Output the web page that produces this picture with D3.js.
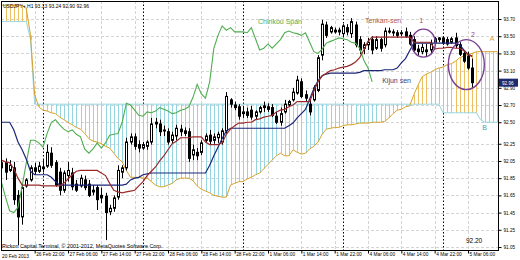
<!DOCTYPE html>
<meta charset="utf-8">
<script src="https://d3js.org/d3.v7.min.js"></script>
<style>
body { margin: 0; background: #fff; }
svg text { font-family: "Liberation Sans", Arial, sans-serif; }
.yaxis text { font-size: 4.6px; fill: #000; }
.xaxis text { font-size: 4.8px; fill: #000; }
</style>
<body></body>
<script>

// ---- data (USDJPY H1) ----
var opens = [
  91.97, 92.03, 91.94, 91.97, 91.65, 91.40, 91.76, 91.83, 91.97, 91.93,
  91.98, 91.99, 92.14, 92.03, 91.92, 91.71, 91.88, 91.91, 91.78, 91.76,
  91.83, 91.78, 91.71, 91.74, 91.65, 91.64, 91.46, 91.50, 91.63, 91.92,
  91.97, 92.27, 92.33, 92.24, 92.20, 92.22, 92.27, 92.48, 92.48, 92.40,
  92.39, 92.29, 92.34, 92.42, 92.40, 92.39, 92.12, 92.15, 92.15, 92.29,
  92.35, 92.29, 92.32, 92.27, 92.40, 92.76, 92.70, 92.68, 92.60, 92.62,
  92.64, 92.57, 92.62, 92.67, 92.68, 92.67, 92.57, 92.50, 92.62, 92.70,
  92.76, 92.84, 92.97, 92.82, 92.71, 92.76, 92.87, 93.28, 93.63, 93.55,
  93.57, 93.55, 93.53, 93.60, 93.53, 93.63, 93.46, 93.36, 93.40, 93.46,
  93.36, 93.46, 93.40, 93.56, 93.55, 93.54, 93.53, 93.55, 93.51, 93.46,
  93.35, 93.32, 93.34, 93.34, 93.43, 93.46, 93.48, 93.46, 93.43, 93.48,
  93.40, 93.30, 93.27, 93.13];
var highs = [
  92.06, 92.08, 92.06, 92.04, 91.71, 91.77, 91.85, 92.00, 92.03, 92.04,
  92.06, 92.24, 92.21, 92.06, 91.97, 91.94, 92.04, 91.97, 91.83, 91.89,
  91.88, 91.83, 91.77, 91.77, 91.74, 91.68, 91.54, 91.65, 92.00, 92.00,
  92.32, 92.37, 92.37, 92.29, 92.27, 92.29, 92.55, 92.55, 92.53, 92.46,
  92.43, 92.39, 92.47, 92.47, 92.44, 92.43, 92.24, 92.20, 92.29, 92.37,
  92.41, 92.37, 92.39, 92.43, 92.85, 92.78, 92.74, 92.71, 92.69, 92.67,
  92.69, 92.64, 92.69, 92.74, 92.72, 92.71, 92.62, 92.67, 92.76, 92.76,
  92.90, 93.04, 93.01, 92.87, 92.76, 92.93, 93.28, 93.69, 93.67, 93.62,
  93.60, 93.60, 93.64, 93.64, 93.71, 93.67, 93.50, 93.43, 93.48, 93.50,
  93.50, 93.48, 93.60, 93.60, 93.58, 93.57, 93.57, 93.60, 93.55, 93.50,
  93.40, 93.41, 93.41, 93.46, 93.49, 93.49, 93.50, 93.49, 93.49, 93.54,
  93.43, 93.34, 93.32, 93.24];
var lows = [
  91.88, 91.83, 91.92, 91.54, 91.07, 91.31, 91.74, 91.81, 91.89, 91.91,
  91.92, 91.97, 91.97, 91.75, 91.65, 91.68, 91.81, 91.71, 91.69, 91.74,
  91.71, 91.63, 91.65, 91.48, 91.56, 91.13, 91.42, 91.46, 91.60, 91.85,
  91.94, 92.24, 92.18, 92.15, 92.18, 92.18, 92.24, 92.43, 92.34, 92.34,
  92.24, 92.25, 92.29, 92.34, 92.34, 92.04, 92.06, 92.06, 92.12, 92.27,
  92.24, 92.25, 92.26, 92.24, 92.37, 92.67, 92.64, 92.53, 92.55, 92.55,
  92.53, 92.53, 92.60, 92.62, 92.62, 92.56, 92.48, 92.46, 92.60, 92.68,
  92.74, 92.82, 92.78, 92.74, 92.58, 92.74, 92.85, 93.22, 93.48, 93.53,
  93.53, 93.51, 93.50, 93.51, 93.48, 93.37, 93.29, 93.29, 93.34, 93.29,
  93.34, 93.32, 93.37, 93.53, 93.50, 93.48, 93.50, 93.48, 93.39, 93.32,
  93.28, 93.29, 93.27, 93.29, 93.42, 93.43, 93.40, 93.39, 93.41, 93.36,
  93.27, 93.19, 93.11, 92.90];
var closes = [
  92.03, 91.92, 92.00, 91.60, 91.40, 91.74, 91.83, 91.97, 91.93, 91.99,
  91.96, 92.15, 92.00, 91.77, 91.71, 91.91, 91.94, 91.75, 91.71, 91.85,
  91.74, 91.65, 91.69, 91.60, 91.62, 91.45, 91.50, 91.62, 91.94, 91.97,
  92.27, 92.33, 92.22, 92.20, 92.24, 92.27, 92.48, 92.50, 92.39, 92.41,
  92.27, 92.35, 92.43, 92.39, 92.37, 92.08, 92.18, 92.11, 92.26, 92.34,
  92.28, 92.33, 92.36, 92.40, 92.80, 92.71, 92.67, 92.57, 92.62, 92.58,
  92.56, 92.62, 92.67, 92.69, 92.65, 92.58, 92.50, 92.60, 92.71, 92.74,
  92.85, 92.99, 92.80, 92.78, 92.62, 92.90, 93.25, 93.64, 93.51, 93.60,
  93.55, 93.57, 93.62, 93.55, 93.67, 93.40, 93.34, 93.40, 93.43, 93.34,
  93.46, 93.36, 93.56, 93.55, 93.54, 93.51, 93.54, 93.50, 93.41, 93.34,
  93.32, 93.37, 93.32, 93.41, 93.47, 93.48, 93.42, 93.41, 93.47, 93.39,
  93.29, 93.21, 93.13, 92.96];

var tenkan = [
  92.06, 92.04, 92.03, 91.96, 91.85, 91.77, 91.77, 91.77, 91.77, 91.77,
  91.76, 91.76, 91.76, 91.76, 91.76, 91.79, 91.84, 91.89, 91.93, 91.94,
  91.94, 91.94, 91.94, 91.94, 91.91, 91.88, 91.79, 91.71, 91.69, 91.68,
  91.69, 91.70, 91.71, 91.76, 91.81, 91.88, 91.93, 91.98, 92.05, 92.11,
  92.18, 92.25, 92.28, 92.32, 92.32, 92.32, 92.33, 92.33, 92.33, 92.27,
  92.24, 92.24, 92.24, 92.26, 92.36, 92.42, 92.46, 92.49, 92.49, 92.50,
  92.50, 92.53, 92.54, 92.56, 92.57, 92.58, 92.62, 92.64, 92.65, 92.68,
  92.70, 92.74, 92.74, 92.74, 92.74, 92.86, 92.97, 93.04, 93.07, 93.10,
  93.11, 93.13, 93.14, 93.15, 93.17, 93.20, 93.25, 93.34, 93.44, 93.49,
  93.49, 93.49, 93.49, 93.49, 93.49, 93.49, 93.49, 93.49, 93.49, 93.43,
  93.43, 93.43, 93.43, 93.43, 93.35, 93.36, 93.36, 93.37, 93.37, 93.36,
  93.36, 93.33, 93.29, 93.26];
var kijun = [
  92.50, 92.50, 92.50, 92.41, 92.27, 92.18, 92.07, 91.93, 91.89, 91.89,
  91.89, 91.89, 91.86, 91.81, 91.77, 91.77, 91.77, 91.77, 91.77, 91.77,
  91.77, 91.77, 91.77, 91.77, 91.77, 91.77, 91.77, 91.77, 91.77, 91.77,
  91.78, 91.83, 91.85, 91.86, 91.89, 91.90, 91.91, 91.91, 91.91, 91.91,
  91.91, 91.91, 91.91, 91.91, 91.91, 91.91, 91.91, 91.91, 91.91, 91.91,
  92.00, 92.11, 92.21, 92.31, 92.40, 92.43, 92.43, 92.43, 92.43, 92.43,
  92.43, 92.43, 92.43, 92.43, 92.43, 92.43, 92.43, 92.43, 92.43, 92.46,
  92.49, 92.55, 92.60, 92.65, 92.77, 92.89, 92.98, 93.04, 93.06, 93.07,
  93.07, 93.07, 93.07, 93.07, 93.07, 93.07, 93.08, 93.10, 93.10, 93.10,
  93.10, 93.10, 93.11, 93.11, 93.11, 93.13, 93.19, 93.24, 93.33, 93.42,
  93.42, 93.42, 93.42, 93.42, 93.42, 93.42, 93.42, 93.42, 93.42, 93.42,
  93.40, 93.34, 93.29, 93.27];
// chinkou span: drawn from the first bar onwards
var chinkou = [
  91.81, 91.63, 91.47, 91.45, 91.51, 91.76, 92.03, 92.29, 92.29, 92.26,
  92.21, 92.37, 92.50, 92.53, 92.47, 92.42, 92.39, 92.41, 92.36, 92.33,
  92.19, 92.14, 92.19, 92.26, 92.20, 92.26, 92.35, 92.36, 92.37, 92.50,
  92.72, 92.70, 92.64, 92.58, 92.57, 92.62, 92.61, 92.63, 92.67, 92.65,
  92.63, 92.60, 92.61, 92.64, 92.65, 92.68, 92.79, 92.94, 92.83, 92.78,
  92.97, 93.36, 93.51, 93.62, 93.57, 93.60, 93.55, 93.55, 93.55, 93.54,
  93.60, 93.47, 93.34, 93.36, 93.41, 93.36, 93.41, 93.46, 93.54, 93.56,
  93.54, 93.53, 93.51, 93.54, 93.43, 93.32, 93.30, 93.35, 93.42, 93.44,
  93.46, 93.48, 93.47, 93.46, 93.43, 93.42, 93.36, 93.22, 93.13, 92.97];
// senkou spans run past the last bar (cut at the price scale)
var spanA = [
  93.86, 93.86, 93.86, 93.86, 93.86, 93.86, 93.82, 93.51, 92.82, 92.68,
  92.64, 92.63, 92.61, 92.60, 92.56, 92.53, 92.50, 92.47, 92.44, 92.42,
  92.37, 92.31, 92.28, 92.27, 92.25, 92.22, 92.20, 92.14, 92.08, 92.04,
  91.94, 91.86, 91.86, 91.86, 91.85, 91.85, 91.81, 91.77, 91.75, 91.75,
  91.77, 91.79, 91.83, 91.85, 91.85, 91.85, 91.82, 91.76, 91.72, 91.70,
  91.68, 91.65, 91.64, 91.63, 91.63, 91.77, 91.79, 91.81, 91.81, 91.84,
  91.86, 91.89, 91.91, 91.96, 92.01, 92.06, 92.11, 92.14, 92.11, 92.11,
  92.18, 92.15, 92.13, 92.14, 92.19, 92.22, 92.27, 92.36, 92.42, 92.43,
  92.44, 92.44, 92.46, 92.47, 92.47, 92.48, 92.49, 92.49, 92.49, 92.50,
  92.50, 92.50, 92.51, 92.55, 92.60, 92.64, 92.65, 92.68, 92.69, 92.82,
  92.93, 93.03, 93.06, 93.08, 93.11, 93.13, 93.14, 93.17, 93.18, 93.21,
  93.25, 93.27, 93.29, 93.30, 93.32, 93.32, 93.32, 93.32, 93.32, 93.32];
var spanB = [
  93.67, 93.67, 93.67, 93.67, 93.67, 93.67, 93.67, 93.46, 92.71, 92.71,
  92.71, 92.71, 92.71, 92.71, 92.71, 92.71, 92.71, 92.71, 92.71, 92.71,
  92.71, 92.71, 92.71, 92.71, 92.71, 92.71, 92.71, 92.71, 92.71, 92.71,
  92.71, 92.71, 92.71, 92.71, 92.71, 92.71, 92.71, 92.71, 92.71, 92.71,
  92.71, 92.71, 92.71, 92.71, 92.71, 92.71, 92.71, 92.71, 92.71, 92.71,
  92.71, 92.71, 92.71, 92.71, 92.71, 92.71, 92.71, 92.71, 92.71, 92.71,
  92.71, 92.71, 92.71, 92.71, 92.71, 92.71, 92.71, 92.71, 92.71, 92.71,
  92.71, 92.71, 92.71, 92.71, 92.71, 92.71, 92.71, 92.71, 92.71, 92.71,
  92.71, 92.71, 92.71, 92.71, 92.71, 92.71, 92.71, 92.71, 92.71, 92.71,
  92.71, 92.71, 92.71, 92.71, 92.71, 92.71, 92.71, 92.71, 92.71, 92.71,
  92.71, 92.71, 92.71, 92.71, 92.71, 92.71, 92.61, 92.61, 92.61, 92.61,
  92.61, 92.61, 92.61, 92.61, 92.61, 92.53, 92.50, 92.50, 92.50, 92.50];

var priceTicks = [93.70, 93.50, 93.30, 93.10, 92.90, 92.70, 92.50, 92.25, 92.05, 91.85, 91.65, 91.45, 91.25, 91.05];
var timeTickBars = [8, 16, 24, 32, 40, 48, 56, 64, 72, 80, 88, 96, 104, 112];
var timeLabels = ["26 Feb 22:00", "27 Feb 06:00", "27 Feb 14:00", "27 Feb 22:00", "28 Feb 06:00", "28 Feb 14:00",
  "28 Feb 22:00", "1 Mar 06:00", "1 Mar 14:00", "1 Mar 22:00", "4 Mar 06:00", "4 Mar 14:00", "4 Mar 22:00", "5 Mar 06:00"];
var daySeparatorBars = [10, 34, 58, 82, 106];
var lastPrice = 92.96;

// ---- layout ----
var width = 520, height = 260;
var plot = {left: 1, right: 498, top: 1, bottom: 250};

var svg = d3.select("body").append("svg")
  .attr("width", width)
  .attr("height", height);

var x = d3.scaleLinear().domain([10, 106]).range([43, 443]);
var y = d3.scaleLinear().domain([91.05, 93.70]).range([247, 19]);

function px(i) { return Math.round(x(i)) + 0.5; }

svg.append("clipPath").attr("id", "clip")
  .append("rect")
  .attr("x", plot.left).attr("y", plot.top)
  .attr("width", plot.right - plot.left).attr("height", plot.bottom - plot.top);

var chart = svg.append("g").attr("clip-path", "url(#clip)");

// grid
chart.selectAll(".hgrid")
  .data(priceTicks)
  .enter().append("line")
  .attr("x1", plot.left).attr("x2", plot.right)
  .attr("y1", function(d) { return Math.round(y(d)) + 0.5; })
  .attr("y2", function(d) { return Math.round(y(d)) + 0.5; })
  .attr("stroke", "#d4d4d4")
  .attr("stroke-dasharray", "3,2");

chart.selectAll(".vgrid")
  .data(timeTickBars)
  .enter().append("line")
  .attr("x1", px).attr("x2", px)
  .attr("y1", plot.top).attr("y2", plot.bottom)
  .attr("stroke", "#d4d4d4")
  .attr("stroke-dasharray", "3,2");

chart.selectAll(".daysep")
  .data(daySeparatorBars)
  .enter().append("line")
  .attr("x1", px).attr("x2", px)
  .attr("y1", plot.top).attr("y2", plot.bottom)
  .attr("stroke", "#000")
  .attr("stroke-dasharray", "1.5,2");

// kumo hatch
chart.selectAll(".kumo")
  .data(spanA)
  .enter().append("line")
  .attr("x1", function(d, i) { return px(i); })
  .attr("x2", function(d, i) { return px(i); })
  .attr("y1", function(d) { return y(d); })
  .attr("y2", function(d, i) { return y(spanB[i]); })
  .attr("stroke", function(d, i) { return d >= spanB[i] ? "#ebbf62" : "#96d5e0"; })
  .attr("stroke-width", 1);

function lineOf(arr) {
  return d3.line()
    .x(function(d, i) { return x(i); })
    .y(function(d) { return y(d); })(arr);
}

chart.append("path").attr("d", lineOf(spanB))
  .attr("fill", "none").attr("stroke", "#96d5e0").attr("stroke-width", 1);
chart.append("path").attr("d", lineOf(spanA))
  .attr("fill", "none").attr("stroke", "#d6a22a").attr("stroke-width", 1);

// candles
var bars = chart.selectAll(".bar")
  .data(closes)
  .enter().append("g")
  .attr("class", "bar");

bars.append("line")
  .attr("x1", function(d, i) { return px(i); })
  .attr("x2", function(d, i) { return px(i); })
  .attr("y1", function(d, i) { return y(highs[i]); })
  .attr("y2", function(d, i) { return y(lows[i]); })
  .attr("stroke", "#000");

bars.append("rect")
  .attr("x", function(d, i) { return px(i) - 1; })
  .attr("width", 2)
  .attr("y", function(d, i) { return y(Math.max(opens[i], d)); })
  .attr("height", function(d, i) { return Math.max(1, Math.abs(y(opens[i]) - y(d))); })
  .attr("fill", function(d, i) { return d >= opens[i] ? "#fff" : "#000"; })
  .attr("stroke", "#000")
  .attr("stroke-width", 1);

// ichimoku lines
chart.append("path").attr("d", lineOf(chinkou))
  .attr("fill", "none").attr("stroke", "#4fae4f").attr("stroke-width", 1.1);
chart.append("path").attr("d", lineOf(kijun))
  .attr("fill", "none").attr("stroke", "#1b2677").attr("stroke-width", 1.2);
chart.append("path").attr("d", lineOf(tenkan))
  .attr("fill", "none").attr("stroke", "#9a2a2a").attr("stroke-width", 1.2);

// annotations
var ellipses = [
  {bar: 101.3, price: 93.42, rx: 12, ry: 14},
  {bar: 111.6, price: 93.17, rx: 18, ry: 25}
];
chart.selectAll(".mark")
  .data(ellipses)
  .enter().append("ellipse")
  .attr("cx", function(d) { return x(d.bar); })
  .attr("cy", function(d) { return y(d.price); })
  .attr("rx", function(d) { return d.rx; })
  .attr("ry", function(d) { return d.ry; })
  .attr("fill", "none")
  .attr("stroke", "#7a3f8e")
  .attr("stroke-width", 1.4);

var notes = [
  {text: "Chinkou Span", bar: 61.6, price: 93.64, color: "#4fae4f", size: 7},
  {text: "Tenkan-sen", bar: 87.3, price: 93.65, color: "#b05a50", size: 7},
  {text: "1", bar: 100.3, price: 93.65, color: "#a04a6a", size: 7},
  {text: "2", bar: 112.7, price: 93.49, color: "#a04a6a", size: 7},
  {text: "A", bar: 117.2, price: 93.44, color: "#d8a050", size: 7},
  {text: "Kijun sen", bar: 91.4, price: 92.96, color: "#3a4272", size: 7},
  {text: "B", bar: 115.4, price: 92.41, color: "#4aa0b8", size: 7},
  {text: "92.20", bar: 111.5, price: 91.10, color: "#000", size: 6.5}
];
chart.selectAll(".note")
  .data(notes)
  .enter().append("text")
  .attr("x", function(d) { return x(d.bar); })
  .attr("y", function(d) { return y(d.price); })
  .attr("fill", function(d) { return d.color; })
  .style("font-size", function(d) { return d.size + "px"; })
  .text(function(d) { return d.text; });

chart.append("text")
  .attr("x", 3).attr("y", 8)
  .style("font-size", "5px")
  .attr("fill", "#000")
  .text("USDJPY+,H1  93.13 93.24 92.90 92.96");

chart.append("text")
  .attr("x", 2).attr("y", 248)
  .style("font-size", "5.4px")
  .attr("fill", "#000")
  .text("Rickon Capital Terminal, \u00a9 2001-2012, MetaQuotes Software Corp.");

// frame
svg.append("rect")
  .attr("x", plot.left + 0.5).attr("y", plot.top + 0.5)
  .attr("width", plot.right - plot.left).attr("height", plot.bottom - plot.top)
  .attr("fill", "none").attr("stroke", "#000");

// axes
var yAxis = d3.axisRight(y)
  .tickValues(priceTicks)
  .tickSize(3)
  .tickPadding(2)
  .tickFormat(d3.format(".2f"));

var yAxisGroup = svg.append("g")
  .attr("class", "yaxis")
  .attr("transform", "translate(" + (plot.right + 0.5) + ",0)")
  .call(yAxis);
yAxisGroup.select(".domain").remove();

var xAxis = d3.axisBottom(x)
  .tickValues(timeTickBars)
  .tickSize(3)
  .tickFormat(function(d, k) { return timeLabels[k]; });

var xAxisGroup = svg.append("g")
  .attr("class", "xaxis")
  .attr("transform", "translate(0," + (plot.bottom + 0.5) + ")")
  .call(xAxis);
xAxisGroup.select(".domain").remove();
xAxisGroup.selectAll("text")
  .style("text-anchor", "start")
  .attr("dx", 1)
  .attr("y", 2.5);

svg.append("text")
  .attr("x", 2).attr("y", 258)
  .style("font-size", "4.8px")
  .text("20 Feb 2013");

// last price tag
var tagY = y(lastPrice);
svg.append("rect")
  .attr("x", plot.right + 1).attr("y", tagY - 4)
  .attr("width", 19).attr("height", 8)
  .attr("fill", "#1d2b6e");
svg.append("text")
  .attr("x", plot.right + 4).attr("y", tagY + 2)
  .attr("fill", "#fff")
  .style("font-size", "4.6px")
  .text(d3.format(".2f")(lastPrice));

</script>
